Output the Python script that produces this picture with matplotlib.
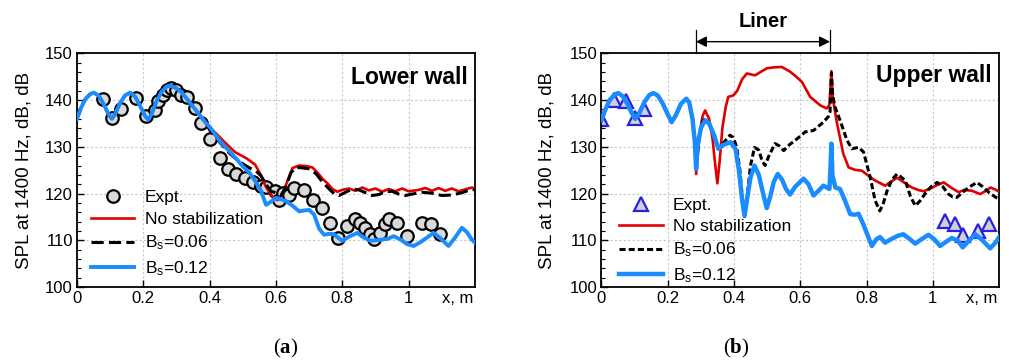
import matplotlib
matplotlib.use("Agg")
import matplotlib.pyplot as plt
from matplotlib.ticker import MultipleLocator
import matplotlib.transforms as mtransforms

plt.rcParams['font.family'] = ['Liberation Sans', 'DejaVu Sans']
plt.rcParams['mathtext.fontset'] = 'custom'
plt.rcParams['mathtext.rm'] = 'Liberation Sans'
plt.rcParams['mathtext.it'] = 'Liberation Sans:italic'
plt.rcParams['mathtext.bf'] = 'Liberation Serif:bold'

# ---------------- Lower wall (a) ----------------
low_expt_x = [0.079, 0.106, 0.133, 0.178, 0.207, 0.235, 0.245, 0.258, 0.270, 0.283, 0.297,
              0.315, 0.331, 0.355, 0.375, 0.400, 0.430, 0.456, 0.480, 0.506, 0.530, 0.556,
              0.571, 0.598, 0.610, 0.620, 0.640, 0.655, 0.685, 0.713, 0.738, 0.763, 0.788,
              0.813, 0.838, 0.853, 0.868, 0.883, 0.896, 0.912, 0.928, 0.940, 0.964, 0.994,
              1.039, 1.067, 1.094]
low_expt_y = [140.2, 136.2, 138.1, 140.4, 136.7, 137.8, 139.8, 141.2, 142.1, 142.6, 142.2,
              141.2, 140.6, 138.3, 135.1, 131.6, 127.6, 125.2, 124.2, 123.4, 122.5, 121.6,
              121.5, 120.6, 118.6, 120.2, 119.8, 121.2, 120.8, 118.7, 116.9, 113.7, 110.6,
              113.0, 114.5, 113.7, 112.7, 111.3, 110.4, 111.6, 113.4, 114.6, 113.7, 110.9,
              113.7, 113.4, 111.3]

low_x_common = [0.0, 0.012, 0.025, 0.04, 0.05, 0.065, 0.08, 0.095, 0.105, 0.115, 0.13, 0.145,
                0.16, 0.175, 0.19, 0.205, 0.215, 0.225, 0.24, 0.255, 0.27, 0.28, 0.295, 0.31,
                0.33, 0.35, 0.37]
low_y_common = [136.0, 138.3, 140.2, 141.3, 141.6, 141.0, 139.2, 137.0, 136.0, 137.0, 139.4,
                141.0, 141.6, 140.8, 138.8, 136.6, 135.8, 137.0, 139.8, 141.8, 142.9, 143.1,
                142.7, 142.0, 140.4, 138.6, 136.8]

low_blue_x = low_x_common + [0.39, 0.40, 0.43, 0.46, 0.48, 0.50, 0.52, 0.54, 0.555, 0.57, 0.585,
                             0.60, 0.615, 0.63, 0.65, 0.67, 0.685, 0.70, 0.715, 0.73, 0.745,
                             0.76, 0.775, 0.79, 0.80, 0.82, 0.845, 0.865, 0.885, 0.91, 0.935,
                             0.955, 0.975, 0.995, 1.015, 1.035, 1.055, 1.075, 1.095, 1.12,
                             1.14, 1.16, 1.175, 1.19, 1.2]
low_blue_y = low_y_common + [135.0, 134.3, 131.3, 129.0, 127.5, 125.8, 124.5, 122.4, 120.5, 117.6,
                             118.3, 119.1, 118.8, 118.4, 117.4, 116.2, 116.4, 116.5, 115.5,
                             112.5, 111.2, 111.4, 111.3, 110.4, 109.9, 110.8, 111.6, 110.6,
                             109.9, 110.1, 110.3, 110.9, 110.2, 109.2, 108.8, 109.6, 110.6,
                             111.6, 110.5, 108.8, 110.6, 112.7, 111.8, 110.2, 109.5]

low_red_x = low_x_common + [0.39, 0.416, 0.445, 0.476, 0.512, 0.537, 0.552, 0.57, 0.59, 0.605,
                            0.62, 0.635, 0.65, 0.67, 0.69, 0.71, 0.725, 0.74, 0.755, 0.77,
                            0.785, 0.80, 0.82, 0.84, 0.86, 0.88, 0.90, 0.92, 0.94, 0.96, 0.98,
                            1.0, 1.03, 1.05, 1.07, 1.09, 1.11, 1.13, 1.15, 1.17, 1.19, 1.2]
low_red_y = low_y_common + [135.0, 133.1, 131.0, 128.9, 127.5, 126.2, 124.3, 121.4, 119.3, 118.6,
                            120.0, 122.8, 125.5, 126.0, 125.9, 125.6, 124.5, 123.2, 122.2,
                            121.0, 120.4, 120.8, 121.1, 120.6, 121.3, 120.7, 121.1, 120.4,
                            121.0, 120.5, 121.1, 120.5, 120.8, 121.2, 120.6, 121.2, 120.6,
                            121.1, 120.5, 120.9, 121.3, 121.1]

low_black_x = low_x_common + [0.39, 0.40, 0.43, 0.46, 0.49, 0.52, 0.54, 0.555, 0.57, 0.585,
                              0.60, 0.615, 0.63, 0.645, 0.66, 0.68, 0.70, 0.72, 0.74, 0.76,
                              0.775, 0.79, 0.81, 0.83, 0.85, 0.87, 0.89, 0.91, 0.93, 0.95,
                              0.97, 0.99, 1.01, 1.04, 1.07, 1.10, 1.13, 1.16, 1.19, 1.2]
low_black_y = low_y_common + [134.9, 133.6, 131.0, 128.6, 126.8, 125.5, 124.8, 123.8, 122.0,
                              120.5, 120.2, 119.6, 121.5, 124.5, 125.6, 125.5, 125.3, 124.3,
                              122.5, 121.0, 120.0, 119.6, 120.3, 121.0, 120.8, 120.2, 119.6,
                              119.8, 120.4, 120.5, 119.9, 119.6, 119.9, 120.3, 120.1, 119.6,
                              119.7, 120.2, 120.9, 120.8]

# ---------------- Upper wall (b) ----------------
up_expt_x = [0.0, 0.038, 0.074, 0.102, 0.129, 1.038, 1.067, 1.092, 1.137, 1.170]
up_expt_y = [136.0, 140.0, 139.8, 136.2, 138.0, 114.2, 113.4, 111.2, 111.9, 113.5]

up_x_common = [0.0, 0.012, 0.025, 0.04, 0.051, 0.065, 0.08, 0.092, 0.102, 0.115, 0.13, 0.145,
               0.157, 0.17, 0.185, 0.2, 0.212, 0.225, 0.24, 0.256, 0.265, 0.275, 0.282]
up_y_common = [135.7, 138.0, 140.0, 141.2, 141.5, 140.8, 139.0, 137.2, 136.0, 137.3, 139.6,
               141.1, 141.5, 141.0, 139.3, 137.0, 135.3, 136.8, 139.2, 140.3, 139.5, 136.0,
               131.0]

up_blue_x = up_x_common + [0.286, 0.29, 0.30, 0.313, 0.325, 0.34, 0.353, 0.37, 0.39, 0.405,
                           0.415, 0.425, 0.432, 0.44, 0.45, 0.462, 0.475, 0.488, 0.499, 0.51,
                           0.52, 0.532, 0.545, 0.557, 0.569, 0.585, 0.61, 0.625, 0.64, 0.655,
                           0.67, 0.68, 0.688, 0.691, 0.694, 0.697, 0.706, 0.72, 0.735, 0.751,
                           0.765, 0.776, 0.79, 0.801, 0.816, 0.83, 0.841, 0.856, 0.875, 0.895,
                           0.911, 0.93, 0.947, 0.965, 0.987, 1.005, 1.022, 1.04, 1.057, 1.075,
                           1.09, 1.11, 1.128, 1.15, 1.173, 1.19, 1.2]
up_blue_y = up_y_common + [125.3, 130.0, 134.0, 135.7, 135.0, 132.5, 129.6, 130.5, 131.0, 129.5,
                           125.0, 118.5, 115.3, 119.0, 123.5, 126.0, 124.0, 120.0, 116.9,
                           119.5, 122.5, 124.2, 123.0, 121.0, 119.8, 121.5, 123.2, 122.0,
                           119.6, 120.6, 121.7, 121.3, 121.0, 125.0, 130.7, 124.0, 121.3,
                           121.0, 118.5, 115.6, 115.5, 115.7, 113.5, 111.5, 108.8, 110.3,
                           110.7, 109.5, 110.3, 111.0, 111.3, 110.3, 109.3, 110.2, 111.2,
                           110.2, 108.8, 109.7, 110.5, 110.0, 108.5, 110.0, 111.3, 110.0,
                           108.3, 109.6, 110.7]

up_red_x = up_x_common + [0.286, 0.295, 0.305, 0.313, 0.325, 0.335, 0.343, 0.35, 0.357, 0.365,
                          0.375, 0.383, 0.398, 0.41, 0.425, 0.439, 0.464, 0.48, 0.499, 0.52,
                          0.544, 0.569, 0.585, 0.605, 0.63, 0.66, 0.68, 0.688, 0.694, 0.698,
                          0.711, 0.73, 0.746, 0.765, 0.786, 0.81, 0.826, 0.856, 0.875, 0.892,
                          0.915, 0.937, 0.955, 0.972, 0.99, 1.012, 1.033, 1.055, 1.078, 1.095,
                          1.118, 1.143, 1.16, 1.174, 1.188, 1.2]
up_red_y = up_y_common + [124.2, 132.0, 136.5, 137.8, 136.0, 132.0, 126.5, 122.2, 127.0, 134.0,
                          138.5, 140.7, 141.0, 142.0, 144.5, 145.7, 145.3, 146.0, 146.8,
                          147.0, 147.1, 146.1, 145.2, 143.9, 140.7, 138.9, 138.2, 139.0,
                          146.2, 140.5, 135.0, 128.5, 125.6, 125.1, 124.9, 123.6, 122.8,
                          121.7, 122.6, 123.4, 122.3, 121.3, 120.8, 120.5, 121.0, 121.8,
                          122.4, 121.3, 120.3, 120.8, 120.6, 119.9, 120.6, 121.3, 120.9,
                          120.4]

up_black_x = up_x_common + [0.286, 0.295, 0.305, 0.313, 0.325, 0.34, 0.353, 0.37, 0.388, 0.398,
                            0.408, 0.418, 0.426, 0.432, 0.44, 0.45, 0.462, 0.475, 0.485,
                            0.494, 0.505, 0.524, 0.537, 0.55, 0.568, 0.585, 0.615, 0.64,
                            0.67, 0.685, 0.69, 0.694, 0.698, 0.705, 0.72, 0.741, 0.756,
                            0.776, 0.791, 0.811, 0.826, 0.84, 0.85, 0.862, 0.877, 0.892,
                            0.905, 0.917, 0.932, 0.947, 0.962, 0.983, 0.998, 1.013, 1.03,
                            1.047, 1.06, 1.073, 1.09, 1.11, 1.133, 1.15, 1.17, 1.19, 1.2]
up_black_y = up_y_common + [125.5, 132.0, 135.5, 136.0, 135.0, 132.5, 129.6, 131.0, 132.5,
                            132.0, 130.0, 125.0, 118.5, 115.1, 119.5, 126.0, 129.9, 129.3,
                            127.0, 126.0, 128.0, 130.7, 130.2, 129.2, 130.5, 131.4, 133.2,
                            133.5, 135.3, 136.5, 137.5, 145.8, 141.0, 138.5, 135.7, 131.4,
                            129.6, 129.9, 128.9, 123.5, 118.5, 116.3, 117.8, 120.6, 123.0,
                            124.2, 123.5, 122.8, 119.5, 117.4, 118.5, 120.6, 121.7, 122.4,
                            121.5, 119.9, 119.3, 119.2, 120.3, 121.4, 122.4, 121.5, 120.2,
                            119.2, 118.8]

xticks = [0, 0.2, 0.4, 0.6, 0.8, 1.0]
xtick_labels = ['0', '0.2', '0.4', '0.6', '0.8', '1']
yticks = [100, 110, 120, 130, 140, 150]
liner_start, liner_end = 0.285, 0.69

RED = '#e00000'
BLUE = '#1a8cff'

fig = plt.figure(figsize=(10.09, 3.63), dpi=100)
axL = fig.add_axes([0.0763, 0.209, 0.3945, 0.644])
axR = fig.add_axes([0.5960, 0.209, 0.3942, 0.644])


def style(ax, label_x):
    ax.set_xlim(0, 1.2)
    ax.set_ylim(100, 150)
    ax.set_xticks(xticks)
    ax.set_xticklabels(xtick_labels)
    ax.set_yticks(yticks)
    ax.yaxis.set_minor_locator(MultipleLocator(2))
    ax.tick_params(axis='both', which='major', direction='in', length=5, width=1,
                   labelsize=12, pad=3)
    ax.tick_params(axis='y', which='minor', direction='in', length=3, width=0.8)
    ax.grid(True, which='major', color='#c8c8c8', linestyle=(0, (2, 2)), linewidth=0.8)
    ax.set_axisbelow(True)
    for s in ax.spines.values():
        s.set_linewidth(1.3)
    ax.set_ylabel('SPL at 1400 Hz, dB, dB', fontsize=13.5)
    ax.yaxis.set_label_coords(label_x, 0.5)
    ax.annotate('x, m', xy=(1.0, 0.0), xycoords='axes fraction', xytext=(-1, -3),
                textcoords='offset points', ha='right', va='top', fontsize=12)


# Lower wall
style(axL, -0.113)
axL.plot(low_expt_x, low_expt_y, linestyle='none', marker='o', markersize=9,
         markerfacecolor='#d9d9d9', markeredgecolor='black', markeredgewidth=1.6,
         label='Expt.', zorder=2)
axL.plot(low_red_x, low_red_y, color=RED, lw=1.9, label='No stabilization', zorder=3)
axL.plot(low_black_x, low_black_y, color='black', lw=2.2, dashes=(4, 1.7),
         label=r'B$_\mathrm{s}$=0.06', zorder=4)
axL.plot(low_blue_x, low_blue_y, color=BLUE, lw=2.8, label=r'B$_\mathrm{s}$=0.12', zorder=5)
axL.text(0.982, 0.897, 'Lower wall', transform=axL.transAxes, ha='right', va='center',
         fontsize=16.5, fontweight='bold')
axL.legend(loc='lower left', bbox_to_anchor=(0.035, 0.039), frameon=False, fontsize=12.5,
           handlelength=2.5, handletextpad=0.6, labelspacing=0.4, borderpad=0,
           borderaxespad=0, numpoints=1)

# Upper wall
style(axR, -0.116)
axR.plot(up_expt_x, up_expt_y, linestyle='none', marker='^', markersize=9.5,
         markerfacecolor='#d0d0d8', markeredgecolor='#2a20e0', markeredgewidth=1.6,
         label='Expt.', zorder=2)
axR.plot(up_red_x, up_red_y, color=RED, lw=1.9, label='No stabilization', zorder=3)
axR.plot(up_black_x, up_black_y, color='black', lw=2.2, dashes=(2, 1),
         label=r'B$_\mathrm{s}$=0.06', zorder=4)
axR.plot(up_blue_x, up_blue_y, color=BLUE, lw=3.2, label=r'B$_\mathrm{s}$=0.12', zorder=5)
axR.text(0.981, 0.906, 'Upper wall', transform=axR.transAxes, ha='right', va='center',
         fontsize=16.5, fontweight='bold')
axR.legend(loc='lower left', bbox_to_anchor=(0.045, 0.011), frameon=False, fontsize=12.5,
           handlelength=2.5, handletextpad=0.6, labelspacing=0.37, borderpad=0,
           borderaxespad=0, numpoints=1)

# Liner annotation
trans = mtransforms.blended_transform_factory(axR.transData, axR.transAxes)
for xv in (liner_start, liner_end):
    axR.plot([xv, xv], [1.0, 1.098], transform=trans, color='black', lw=0.9, clip_on=False)
axR.annotate('', xy=(liner_start, 1.05), xycoords=trans, xytext=(liner_end, 1.05),
             textcoords=trans,
             arrowprops=dict(arrowstyle='<|-|>', color='black', lw=1.0,
                             mutation_scale=16, shrinkA=0, shrinkB=0))
axR.text((liner_start + liner_end) / 2, 1.135, 'Liner', transform=trans, ha='center',
         va='center', fontsize=14.5, fontweight='bold')

fig.text(0.283, 0.041, r'($\mathbf{a}$)', ha='center', va='center', fontsize=15,
         family='Liberation Serif')
fig.text(0.730, 0.041, r'($\mathbf{b}$)', ha='center', va='center', fontsize=15,
         family='Liberation Serif')

fig.savefig('out.png', dpi=100)
